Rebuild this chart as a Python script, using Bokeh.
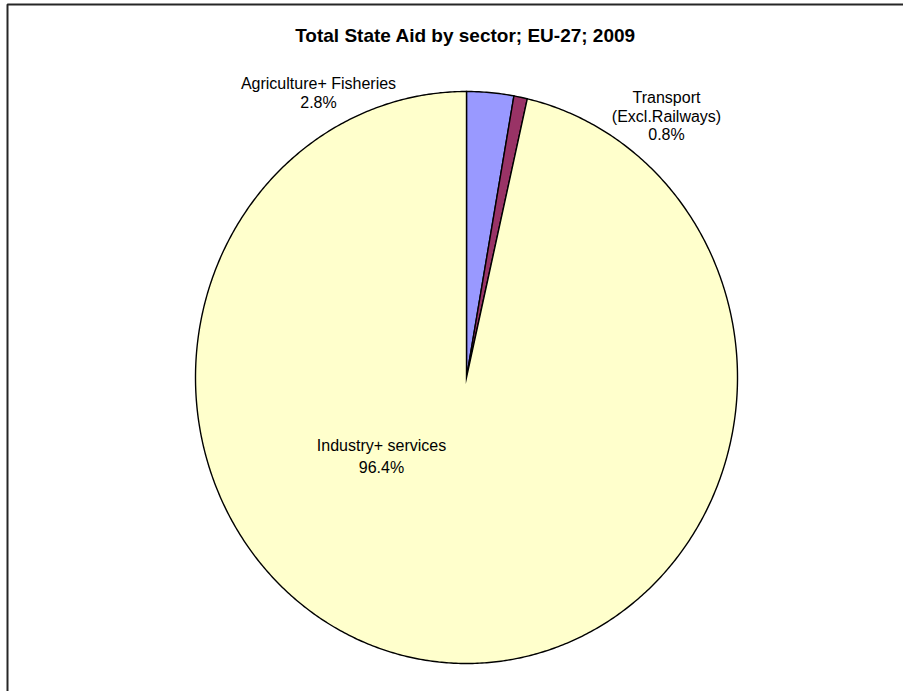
import numpy as np
from bokeh.plotting import figure
from bokeh.models import Range1d
from bokeh.core.properties import value
from bokeh.embed import file_html
from bokeh.resources import INLINE

# ---- data ----
title_text = "Total State Aid by sector; EU-27; 2009"
sectors = ["Agriculture+ Fisheries", "Transport (Excl.Railways)", "Industry+ services"]
label_lines = [["Agriculture+ Fisheries"], ["Transport", "(Excl.Railways)"], ["Industry+ services"]]
shares = [2.8, 0.8, 96.4]
colors = ["#9999FF", "#993366", "#FFFFCC"]

# ---- layout (pixel space) ----
W, H = 903, 691
cx, cy = 466, 377
rx, ry = 271, 286
label_pos = [(318, 83, 19), (666, 97, 18.5), (381, 445, 22)]  # x, first-line y, line step
FONT = "Liberation Sans"

p = figure(width=W, height=H, x_range=Range1d(0, W), y_range=Range1d(H, 0),
           output_backend="svg", toolbar_location=None,
           x_axis_type=None, y_axis_type=None, min_border=0)
p.grid.visible = False
p.outline_line_color = None
p.background_fill_color = "white"
p.border_fill_color = "white"

# chart border (cropped on the right and bottom)
p.quad(left=[7], right=[W + 20], top=[4], bottom=[H + 20], fill_color=None,
       line_color="#262626", line_width=2)

# pie slices, clockwise from 12 o'clock
total = sum(shares)
cum = np.cumsum([0] + shares) / total
xs, ys = [], []
for i in range(len(shares)):
    a0, a1 = cum[i] * 2 * np.pi, cum[i + 1] * 2 * np.pi
    n = max(3, int((a1 - a0) / (2 * np.pi) * 720))
    t = np.linspace(a0, a1, n)
    px = np.concatenate([[cx], cx + rx * np.sin(t), [cx]])
    py = np.concatenate([[cy], cy - ry * np.cos(t), [cy]])
    xs.append(list(px))
    ys.append(list(py))
p.patches(xs=xs, ys=ys, fill_color=colors, line_color="black", line_width=1.4,
          line_join="miter")

# title
p.text(x=[465], y=[35], text=[title_text], text_font=value(FONT),
       text_font_style="bold", text_font_size="19px", text_align="center",
       text_baseline="middle", text_color="black")

# data labels
tx, ty, tt = [], [], []
for lines, share, (lx, ly, step) in zip(label_lines, shares, label_pos):
    for k, line in enumerate(lines + [f"{share:.1f}%"]):
        tx.append(lx)
        ty.append(ly + k * step)
        tt.append(line)
p.text(x=tx, y=ty, text=tt, text_font=value(FONT), text_font_size="16px",
       text_align="center", text_baseline="middle", text_color="black")

open("out.html", "w").write(file_html(p, INLINE))
